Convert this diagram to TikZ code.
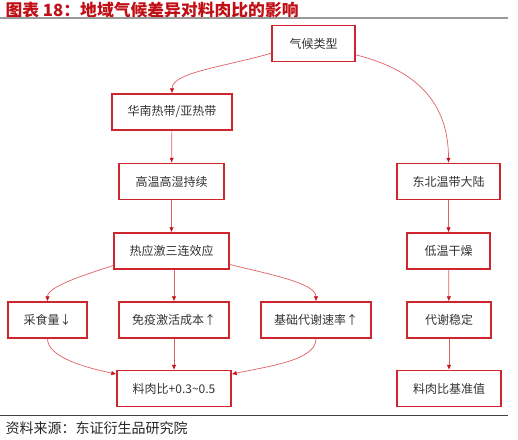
\documentclass[tikz,border=0pt]{standalone}
\usepackage{fontspec}
\newfontfamily\cjk{Noto Sans CJK SC}
\usepackage{tikz}
\usetikzlibrary{arrows.meta}
\definecolor{boxred}{RGB}{206,38,44}
\definecolor{linkred}{RGB}{222,96,100}
\definecolor{tipred}{RGB}{200,20,26}
\definecolor{titlered}{RGB}{192,16,22}

\begin{document}
\begin{tikzpicture}[x=1pt, y=1pt, >={Latex[length=5pt,width=4.5pt,color=tipred]},
  box/.style={draw=boxred, line width=1.4pt, minimum height=36pt, inner sep=0pt,
              font=\cjk\fontsize{12}{14}\selectfont, text=black!80},
  link/.style={->, draw=linkred, line width=0.7pt}]
  \useasboundingbox (0,0) rectangle (518,-439);
  % title and rules
  \node[anchor=west, font=\cjk\bfseries\fontsize{16.8}{18}\selectfont, text=titlered]
    (title) at (2,-10) {图表 18：地域气候差异对料肉比的影响};
  \draw[black!40, line width=2pt] (0,-18) -- (508,-18);
  \draw[black!75, line width=0.8pt] (0,-415) -- (508,-415);
  \node[anchor=west, font=\cjk\fontsize{14}{16}\selectfont, text=black!85]
    (src) at (2,-428) {资料来源：东证衍生品研究院};
  % top
  \node[box, minimum width=83pt]  (clim)  at (313.5,-43.5) {气候类型};
  % south branch
  \node[box, minimum width=120pt] (south) at (172,-112)    {华南热带/亚热带};
  \node[box, minimum width=105pt] (hot)   at (171.5,-181.5) {高温高湿持续};
  \node[box, minimum width=115pt] (heat)  at (171.5,-251)  {热应激三连效应};
  \node[box, minimum width=79pt]  (feed)  at (47.5,-320)   {采食量↓};
  \node[box, minimum width=110pt] (immu)  at (174,-320)    {免疫激活成本↑};
  \node[box, minimum width=110pt] (meta)  at (316,-320)    {基础代谢速率↑};
  \node[box, minimum width=114pt] (fcrup) at (174,-388.5)  {料肉比+0.3\textasciitilde0.5};
  % north branch
  \node[box, minimum width=103pt] (north) at (448.5,-181.5) {东北温带大陆};
  \node[box, minimum width=83pt]  (cold)  at (448.5,-251)  {低温干燥};
  \node[box, minimum width=84pt]  (stab)  at (449,-320)    {代谢稳定};
  \node[box, minimum width=104pt] (base)  at (449,-388.5)  {料肉比基准值};
  % links
  \draw[link] (clim.193) to[out=196, in=90, out looseness=1.2, in looseness=0.5] (south.north);
  \draw[link] (clim.345) to[out=-14, in=90, looseness=1.1] (north.north);
  \draw[link] (south) -- (hot);
  \draw[link] (hot) -- (heat);
  \draw[link] (heat.194) to[out=198, in=90, out looseness=1.1, in looseness=0.5] (feed.north);
  \draw[link] (heat.south -| immu.north) -- (immu.north);
  \draw[link] (heat.347) to[out=-14, in=90, out looseness=1.1, in looseness=0.5] (meta.north);
  \draw[link] (feed.south) to[out=-90, in=168, out looseness=0.6, in looseness=1.1] (fcrup.166);
  \draw[link] (immu) -- (fcrup);
  \draw[link] (meta.south) to[out=-90, in=12, out looseness=0.6, in looseness=1.1] (fcrup.14);
  \draw[link] (north) -- (cold);
  \draw[link] (cold) -- (stab);
  \draw[link] (stab) -- (base);
\end{tikzpicture}
\end{document}
